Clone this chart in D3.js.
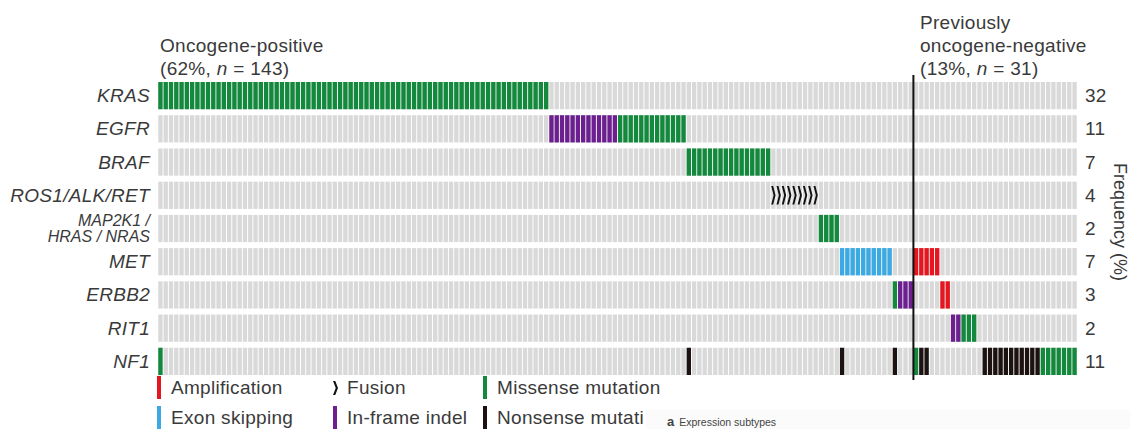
<!DOCTYPE html>
<html>
<head>
<meta charset="utf-8">
<script src="https://cdn.jsdelivr.net/npm/d3@7"></script>
<style>
  html, body { margin: 0; padding: 0; background: #fff; }
  svg { display: block; font-family: "Liberation Sans", Arial, sans-serif; }
</style>
</head>
<body>
<svg id="chart" width="1130" height="429"></svg>
<script>
// Genes (rows), top to bottom, with their alteration frequency (%)
const genes = ["KRAS", "EGFR", "BRAF", "ROS1/ALK/RET", "MAP2K1 / HRAS / NRAS", "MET", "ERBB2", "RIT1", "NF1"];
const geneLabelLines = [["KRAS"], ["EGFR"], ["BRAF"], ["ROS1/ALK/RET"], ["MAP2K1 /", "HRAS / NRAS"], ["MET"], ["ERBB2"], ["RIT1"], ["NF1"]];
const frequencies = [32, 11, 7, 4, 2, 7, 3, 2, 11];

// Samples: oncogene-positive first, then previously oncogene-negative
const nPositive = 143;
const nNegative = 31;

// Alteration runs per gene: [first sample index, number of samples, alteration type]
const krasRuns  = [[0, 74, "missense"]];
const egfrRuns  = [[74, 13, "indel"], [87, 13, "missense"]];
const brafRuns  = [[100, 16, "missense"]];
const fusionRuns = [[116, 9, "fusion"]];
const rasRuns   = [[125, 4, "missense"]];
const metRuns   = [[129, 10, "exon"], [143, 5, "amp"]];
const erbb2Runs = [[139, 1, "missense"], [140, 3, "indel"], [148, 2, "amp"]];
const rit1Runs  = [[150, 2, "indel"], [152, 3, "missense"]];
const nf1Runs   = [[0, 1, "missense"], [100, 1, "nonsense"], [129, 1, "nonsense"], [139, 1, "nonsense"],
                   [143, 1, "missense"], [144, 1, "nonsense"], [145, 1, "nonsense"],
                   [156, 11, "nonsense"], [167, 7, "missense"]];
const geneRuns = [krasRuns, egfrRuns, brafRuns, fusionRuns, rasRuns, metRuns, erbb2Runs, rit1Runs, nf1Runs];

// Legend entries
const legendTypes  = ["amp", "fusion", "missense", "exon", "indel", "nonsense"];
const legendLabels = ["Amplification", "Fusion", "Missense mutation", "Exon skipping", "In-frame indel", "Nonsense mutati"];

const colors = {
  missense: "#12893c",
  indel: "#6c1f8f",
  amp: "#e5161f",
  exon: "#3ba9e2",
  nonsense: "#1d1212",
  fusion: "#111111"
};
const emptyColor = "#d9d9d9";
const textColor = "#3a3a3a";
const fontSize = 19;

const svg = d3.select("#chart");

const samples = d3.range(nPositive + nNegative);
const x = d3.scaleBand().domain(samples).range([158, 1077]).paddingInner(0.18).paddingOuter(0.05);
const y = d3.scaleBand().domain(genes).range([82, 375]).paddingInner(0.18).paddingOuter(0.0);

// Background grid of empty cells
const rows = svg.append("g").selectAll("g").data(genes).join("g")
  .attr("transform", d => `translate(0,${y(d)})`);
rows.selectAll("rect").data(samples).join("rect")
  .attr("x", s => x(s))
  .attr("y", 0)
  .attr("width", x.bandwidth())
  .attr("height", y.bandwidth())
  .attr("fill", emptyColor);

// Expand runs into individual altered cells
const cells = [];
geneRuns.forEach((runs, gi) => {
  runs.forEach(([start, count, type]) => {
    for (let k = 0; k < count; k++) cells.push({ gene: genes[gi], sample: start + k, type });
  });
});

function fusionPath(x0, w, top, h) {
  const m = top + h / 2;
  return `M${x0},${top} L${x0 + w * 0.45},${top} L${x0 + w},${m} L${x0 + w * 0.45},${top + h} L${x0},${top + h} L${x0 + w * 0.55},${m} Z`;
}

const marks = svg.append("g");
marks.selectAll("rect").data(cells.filter(c => c.type !== "fusion")).join("rect")
  .attr("x", c => x(c.sample))
  .attr("y", c => y(c.gene))
  .attr("width", x.bandwidth())
  .attr("height", y.bandwidth())
  .attr("fill", c => colors[c.type]);
marks.selectAll("path").data(cells.filter(c => c.type === "fusion")).join("path")
  .attr("d", c => fusionPath(x(c.sample), x.bandwidth(), y(c.gene) + y.bandwidth() * 0.16, y.bandwidth() * 0.68))
  .attr("fill", colors.fusion);

// Gene labels
const labels = svg.append("g").attr("font-style", "italic").attr("fill", textColor)
  .attr("text-anchor", "end");
genes.forEach((g, i) => {
  const lines = geneLabelLines[i];
  const cy = y(g) + y.bandwidth() / 2;
  const multi = lines.length > 1;
  const t = labels.append("text").attr("x", 150)
    .attr("font-size", multi ? 16 : fontSize)
    .attr("letter-spacing", multi ? 0 : 0.3);
  lines.forEach((ln, j) => {
    t.append("tspan").attr("x", 150)
      .attr("y", cy + (multi ? 5.5 : 6.5) + (j - (lines.length - 1) / 2) * 16)
      .text(ln);
  });
});

// Frequency column
svg.append("g").attr("font-size", fontSize).attr("fill", textColor).attr("letter-spacing", 0.3)
  .selectAll("text").data(genes).join("text")
  .attr("x", 1085)
  .attr("y", g => y(g) + y.bandwidth() / 2 + 6.5)
  .text((g, i) => frequencies[i]);

svg.append("text")
  .attr("transform", `translate(1114,222) rotate(90)`)
  .attr("text-anchor", "middle")
  .attr("font-size", 18)
  .attr("fill", textColor)
  .text("Frequency (%)");

// Group divider
const divX = x(nPositive) - (x.step() - x.bandwidth()) / 2;
svg.append("line")
  .attr("x1", divX).attr("x2", divX)
  .attr("y1", 75).attr("y2", 380)
  .attr("stroke", "#111").attr("stroke-width", 2);

// Group headings
function heading(lines, x0, baseY) {
  const t = svg.append("text").attr("font-size", fontSize).attr("fill", textColor)
    .attr("letter-spacing", 0.3);
  lines.forEach((parts, j) => {
    const ts = t.append("tspan").attr("x", x0).attr("y", baseY + j * 23);
    parts.forEach(([txt, ital]) => {
      ts.append("tspan").attr("font-style", ital ? "italic" : null).text(txt);
    });
  });
}
heading([[["Oncogene-positive", false]], [["(62%, ", false], ["n", true], [" = 143)", false]]], 160, 52);
heading([[["Previously", false]], [["oncogene-negative", false]], [["(13%, ", false], ["n", true], [" = 31)", false]]], 920, 29);

// Legend
const legendX = [157, 333, 483];
const legendY = [376, 406];
const lg = svg.append("g");
legendTypes.forEach((type, i) => {
  const col = i % 3, row = Math.floor(i / 3);
  const gx = legendX[col], gy = legendY[row];
  if (type === "fusion") {
    lg.append("path").attr("d", fusionPath(gx, 5, gy + 5, 14)).attr("fill", colors.fusion);
  } else {
    lg.append("rect").attr("x", gx).attr("y", gy).attr("width", 4).attr("height", 23).attr("fill", colors[type]);
  }
  lg.append("text").attr("x", gx + 14).attr("y", gy + 18)
    .attr("font-size", fontSize).attr("letter-spacing", 0.3).attr("fill", textColor).text(legendLabels[i]);
});

// Next panel's strip at the bottom edge
svg.append("rect").attr("x", 646).attr("y", 410).attr("width", 484).attr("height", 19)
  .attr("fill", "#fbfbfb");
const cap = svg.append("text").attr("x", 667).attr("y", 426).attr("fill", "#444");
cap.append("tspan").attr("font-weight", "bold").attr("font-size", 13).text("a");
cap.append("tspan").attr("font-size", 10.5).attr("dx", 5).text("Expression subtypes");
</script>
</body>
</html>
